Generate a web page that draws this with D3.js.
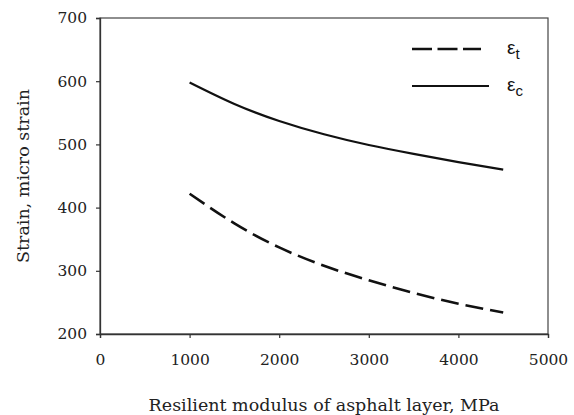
<!DOCTYPE html>
<html><head><meta charset="utf-8">
<script src="https://cdn.jsdelivr.net/npm/d3@7"></script>
<style>body{margin:0;background:#fff}svg{display:block}</style>
</head><body>
<svg id="c" width="574" height="415"></svg>
<script>
const modulus = [1000, 1500, 2000, 2500, 3000, 3500, 4000, 4500];
const strainT = [422, 375, 337, 308, 285, 265, 248, 234];
const strainC = [598, 564, 537, 516, 499, 485, 472, 460];
const xTicks = [0, 1000, 2000, 3000, 4000, 5000];
const yTicks = [200, 300, 400, 500, 600, 700];

const svg = d3.select("#c");
const m = {l:100, t:18, r:548, b:334};
const x = d3.scaleLinear().domain([0,5000]).range([m.l, m.r]);
const y = d3.scaleLinear().domain([200,700]).range([m.b, m.t]);
const serif = "'DejaVu Serif', serif";

svg.append("rect").attr("x",m.l).attr("y",m.t).attr("width",m.r-m.l).attr("height",m.b-m.t)
  .attr("fill","none").attr("stroke","#444").attr("stroke-width",1.2);

const xa = svg.append("g").attr("transform",`translate(0,${m.b})`)
  .call(d3.axisBottom(x).tickValues(xTicks).tickSize(4).tickPadding(16).tickFormat(d3.format("d")));
const ya = svg.append("g").attr("transform",`translate(${m.l},0)`)
  .call(d3.axisLeft(y).tickValues(yTicks).tickSize(4).tickPadding(9).tickFormat(d3.format("d")));
[xa, ya].forEach(a => {
  a.select(".domain").attr("stroke","#333").attr("stroke-width",1.3);
  a.selectAll(".tick line").attr("stroke","#333").attr("stroke-width",1.2);
  a.selectAll("text").attr("font-family",serif).attr("font-size",15.5).attr("fill","#222");
});

const line = d3.line().x((d,i)=>x(modulus[i])).y(d=>y(d)).curve(d3.curveNatural);
svg.append("path").datum(strainC).attr("d",line).attr("fill","none")
  .attr("stroke","#111").attr("stroke-width",2.2);
svg.append("path").datum(strainT).attr("d",line).attr("fill","none")
  .attr("stroke","#111").attr("stroke-width",2.6).attr("stroke-dasharray","18,7");

// legend
const lg = svg.append("g");
lg.append("line").attr("x1",412).attr("x2",481).attr("y1",49).attr("y2",49)
  .attr("stroke","#111").attr("stroke-width",2.6).attr("stroke-dasharray","20,5.5");
lg.append("line").attr("x1",412).attr("x2",489).attr("y1",86).attr("y2",86)
  .attr("stroke","#111").attr("stroke-width",2.2);
const labels = [["t",54],["c",91]];
labels.forEach(([s,yy]) => {
  const t = lg.append("text").attr("x",507).attr("y",yy).attr("font-family","'Liberation Sans', Arial, sans-serif")
    .attr("font-size",19).attr("fill","#111");
  t.append("tspan").text("ε");
  t.append("tspan").attr("dy",5).attr("font-size",15).text(s);
});

svg.append("text").attr("x",(m.l+m.r)/2).attr("y",411).attr("text-anchor","middle")
  .attr("font-family",serif).attr("font-size",17.5).attr("fill","#222")
  .text("Resilient modulus of asphalt layer, MPa");
svg.append("text").attr("transform",`translate(29,${(m.t+m.b)/2}) rotate(-90)`).attr("text-anchor","middle")
  .attr("font-family",serif).attr("font-size",17.5).attr("fill","#222")
  .text("Strain, micro strain");
</script>
</body></html>
